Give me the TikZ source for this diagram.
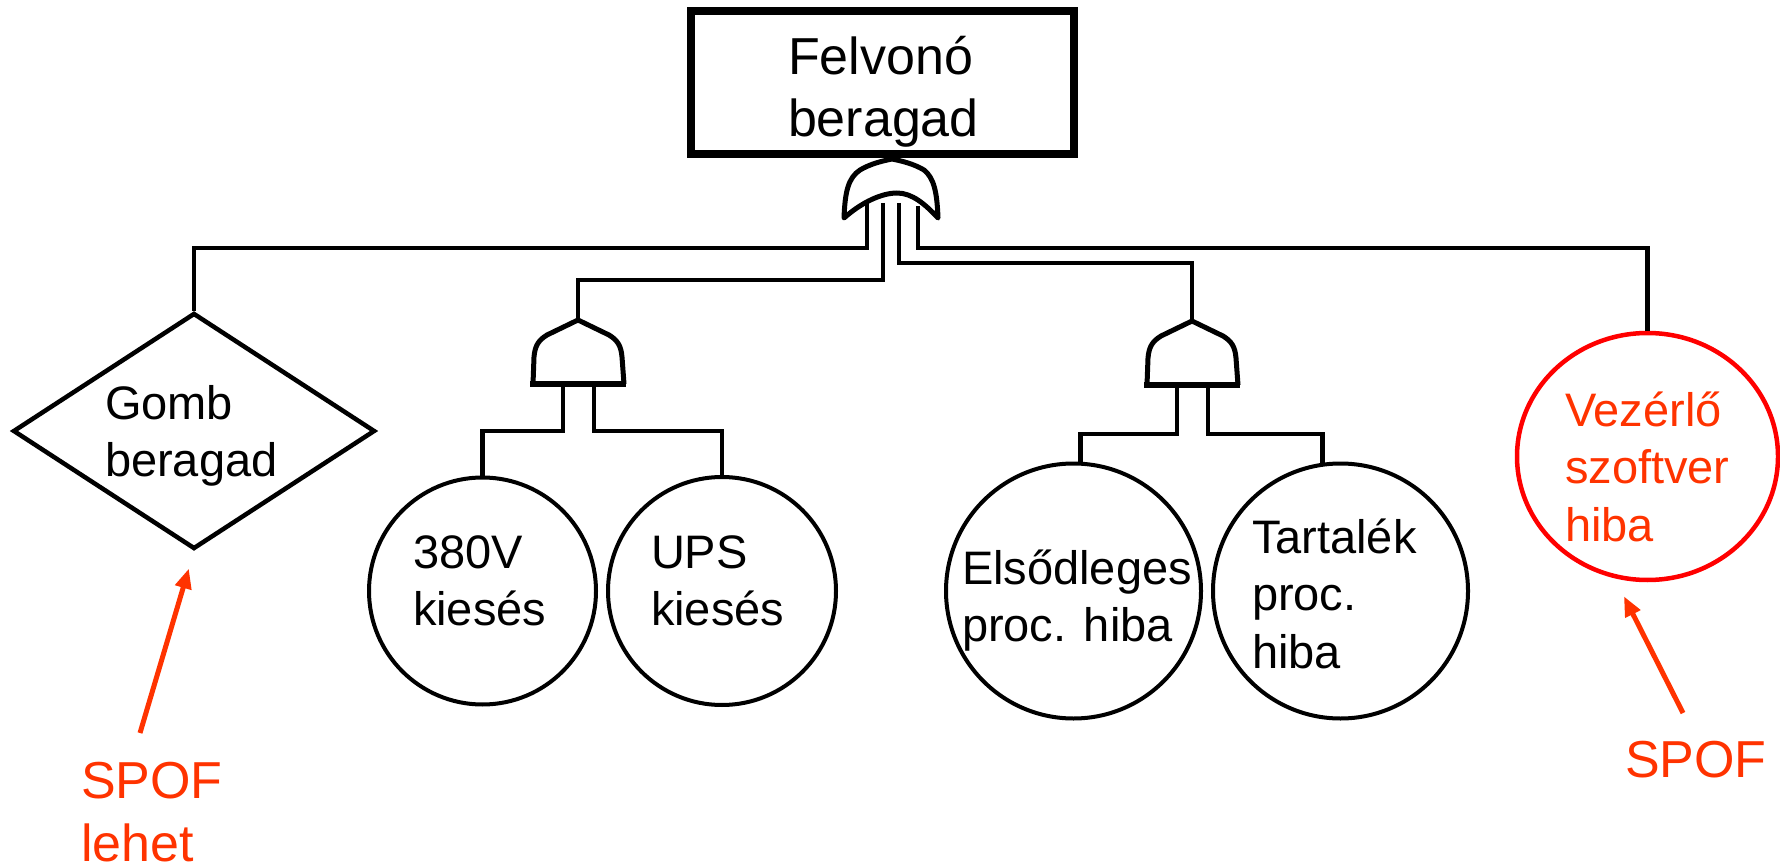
\documentclass[tikz,border=0pt]{standalone}
\usepackage{fontspec}
\setmainfont{Liberation Sans}
\usetikzlibrary{shapes.geometric,arrows.meta}
\definecolor{spof}{RGB}{255,51,0}
\definecolor{vezred}{RGB}{255,0,0}
\newcommand{\mylines}[1]{\begin{tabular}[t]{@{}l@{}}#1\end{tabular}}
\begin{document}
\begin{tikzpicture}[x=1pt,y=-1pt,
  conn/.style={line width=4.5pt, line join=miter},
  gateline/.style={line width=5pt, line join=round},
  evt/.style={circle, draw, line width=4pt, inner sep=0pt},
  txt/.style={anchor=base west, inner sep=0pt, outer sep=0pt},
  big/.style={font=\fontsize{52pt}{62pt}\selectfont},
  mid/.style={font=\fontsize{47pt}{57.5pt}\selectfont},
  redarrow/.style={draw=spof, line width=5pt, -{Triangle[length=20pt,width=16pt]}},
  andgate/.pic={
    \draw[gateline] (-45,64) -- (-44,37) .. controls (-43,25) and (-39,20) .. (-31,15) -- (0,0) -- (31,15) .. controls (39,20) and (43,25) .. (44,37) -- (46,64);
    \draw[line width=6pt] (-48,64) -- (48,64);
    \coordinate (-out) at (0,0);
    \coordinate (-in1) at (-15,64);
    \coordinate (-in2) at (16,64);
  }
]
\path[use as bounding box] (0,0) rectangle (1780,866);

% top event
\node[draw, line width=8pt, minimum width=383pt, minimum height=143pt, inner sep=0pt] (top) at (882.5,82.5) {};
\node[txt, big] (tTop) at (788,75) {\mylines{Felvonó\\beragad}};

% OR gate
\draw[gateline] (844,218) .. controls (845,192) and (848,178) .. (860,170) .. controls (870,164) and (882,161) .. (892,159) .. controls (902,161) and (914,164) .. (924,170) .. controls (934,178) and (937,192) .. (938,218) .. controls (925,204) and (912,193) .. (897,193) .. controls (882,193) and (862,202) .. (844,218) -- cycle;
\coordinate (or1) at (867,203);
\coordinate (or2) at (883,203);
\coordinate (or3) at (899,203);
\coordinate (or4) at (918,206);

% AND gates
\pic (a1) at (578,320) {andgate};
\pic (a2) at (1192,321) {andgate};

% events
\node[diamond, draw, line width=4.5pt, minimum width=362pt, minimum height=236pt, inner sep=0pt] (dia) at (194,431) {};
\node[evt, minimum size=227pt] (c1) at (482.5,591) {};
\node[evt, minimum size=228pt] (c2) at (722,591) {};
\node[evt, minimum size=255pt] (c3) at (1073.5,591) {};
\node[evt, minimum size=255pt] (c4) at (1340.5,591) {};
\node[ellipse, draw=vezred, line width=4.5pt, minimum width=261pt, minimum height=247pt, inner sep=0pt] (vez) at (1647.5,456.5) {};

% buses
\coordinate (busA) at (0,248);
\coordinate (busB) at (0,280);
\coordinate (busC) at (0,263);
\coordinate (busD) at (0,431);
\coordinate (busE) at (0,434);

\draw[conn] (or1) -- (or1 |- busA) -| (dia.north);
\draw[conn] (or2) -- (or2 |- busB) -| (a1-out);
\draw[conn] (or3) -- (or3 |- busC) -| (a2-out);
\draw[conn] (or4) -- (or4 |- busA) -| (vez.north);
\draw[conn] (a1-in1) -- (a1-in1 |- busD) -| (c1.north);
\draw[conn] (a1-in2) -- (a1-in2 |- busD) -| (c2.north);
\draw[conn] (a2-in1) -- (a2-in1 |- busE) -| (c3.87);
\draw[conn] (a2-in2) -- (a2-in2 |- busE) -| (c4.98);

% texts
\node[txt, mid] (tGomb) at (105,419) {\mylines{Gomb\\beragad}};
\node[txt, mid] (t1) at (413,568) {\mylines{380V\\kiesés}};
\node[txt, mid] (t2) at (651,568) {\mylines{UPS\\kiesés}};
\node[txt, mid] (t3) at (962,584) {\mylines{Elsődleges\\proc. hiba}};
\node[txt, mid] (t4) at (1252,553) {\mylines{Tartalék\\proc.\\hiba}};
\node[txt, mid, text=spof] (t5) at (1565,426) {\mylines{Vezérlő\\szoftver\\hiba}};
\node[txt, big, text=spof] (t6) at (1625,777) {SPOF};
\node[txt, text=spof, font=\fontsize{52pt}{63pt}\selectfont] (t7) at (81,798) {\mylines{SPOF\\lehet}};

% SPOF arrows
\coordinate (tailL) at (140,733);
\coordinate (tailR) at (1683,713);
\draw[redarrow, shorten >=18pt] (tailL) -- (dia.south);
\draw[redarrow, shorten >=20pt] (tailR) -- (vez.255);
\end{tikzpicture}
\end{document}
